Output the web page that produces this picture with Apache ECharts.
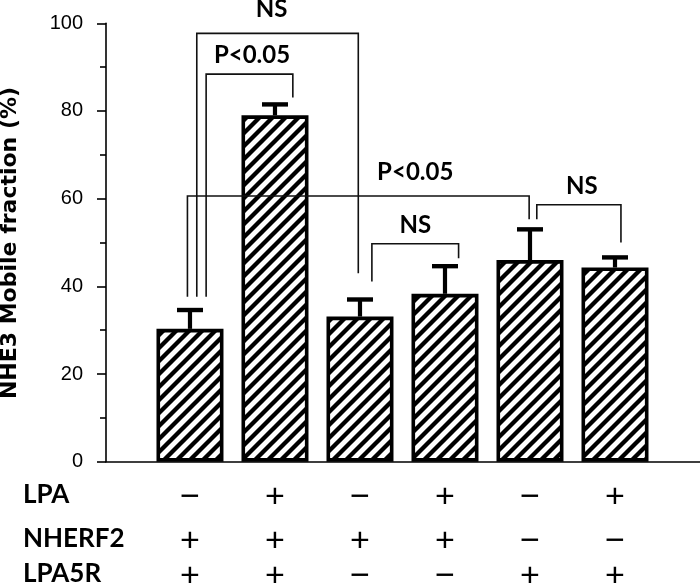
<!DOCTYPE html>
<html><head><meta charset="utf-8">
<script src="https://cdn.jsdelivr.net/npm/echarts@6/dist/echarts.min.js"></script>
<style>html,body{margin:0;padding:0;background:#fff}#c{width:700px;height:587px}</style>
</head><body><div id="c"></div><script>
// ---- data ----
const categories = [0, 1, 2, 3, 4, 5];
const means  = [30.3, 79.0, 33.1, 38.3, 46.0, 44.3];
const errors = [4.3, 2.5, 3.9, 6.3, 7.0, 2.3];
const yTitle = 'NHE3 Mobile fraction (%)';
const rowNames = ['LPA', 'NHERF2', 'LPA5R'];
const lpaRow    = ['−', '+', '−', '+', '−', '+'];
const nherf2Row = ['+', '+', '+', '+', '−', '−'];
const lpa5rRow  = ['+', '+', '−', '−', '+', '+'];
const yTicks = [0, 20, 40, 60, 80, 100];
// brackets: [xLeft, xRight, yTop, yLeftEnd, yRightEnd, label, labelX, labelY]
const brackets = [
  [0.19, 1.21, 88.4, 37.6, 83.1, 'P<0.05', 0.73, 92.6],
  [0.08, 1.98, 97.7, 37.6, 43.0, 'NS', 0.96, 103.2],
  [-0.03, 3.99, 60.6, 37.6, 55.3, 'P<0.05', 2.65, 66.1],
  [2.14, 3.16, 49.7, 41.1, 46.4, 'NS', 2.65, 54.0],
  [4.08, 5.07, 58.6, 55.3, 50.0, 'NS', 4.61, 62.8]
];

// ---- hatch pattern ----
function hatch() {
  const s = 13, c = document.createElement('canvas');
  c.width = s; c.height = s;
  const g = c.getContext('2d');
  g.fillStyle = '#fff'; g.fillRect(0, 0, s, s);
  g.strokeStyle = '#000'; g.lineWidth = 4.3; g.lineCap = 'square';
  g.beginPath();
  g.moveTo(0, s); g.lineTo(s, 0);
  g.moveTo(-s / 2, s / 2); g.lineTo(s / 2, -s / 2);
  g.moveTo(s / 2, s + s / 2); g.lineTo(s + s / 2, s / 2);
  g.stroke();
  return c;
}

const chart = echarts.init(document.getElementById('c'), null, { renderer: 'canvas' });
const tableRows = [lpaRow, nherf2Row, lpa5rRow];
const rowY = [498, 542, 577];

chart.setOption({
  animation: false,
  backgroundColor: '#fff',
  grid: { left: 106, right: 0, top: 23.3, bottom: 125.3, containLabel: false, outerBoundsMode: 'none' },
  xAxis: {
    type: 'value', min: -0.988, max: 6.0,
    axisLine: { show: true, onZero: false, lineStyle: { color: '#000', width: 1.6 } },
    axisTick: { show: false }, axisLabel: { show: false }, splitLine: { show: false }
  },
  yAxis: {
    type: 'value', min: yTicks[0], max: yTicks[yTicks.length - 1], interval: 20,
    axisLine: { show: true, onZero: false, lineStyle: { color: '#000', width: 1.6 } },
    axisTick: { show: true, length: 9, lineStyle: { color: '#000', width: 1.6 } },
    minorTick: { show: true, splitNumber: 2, length: 6, lineStyle: { color: '#000', width: 1.6 } },
    axisLabel: { fontFamily: 'Liberation Sans', fontSize: 20, color: '#000', margin: 23 },
    splitLine: { show: false }
  },
  series: [
    {
      type: 'bar',
      data: means.map((m, i) => [categories[i], m]),
      barWidth: 67,
      itemStyle: { color: { image: hatch(), repeat: 'repeat' }, borderColor: '#000', borderWidth: 3.6 },
      z: 2
    },
    {
      type: 'custom', z: 3, clip: false,
      data: means.map((m, i) => [categories[i], m, m + errors[i]]),
      encode: { x: 0, y: [1, 2] },
      renderItem: (params, api) => {
        const x = api.value(0);
        const p0 = api.coord([x, api.value(1)]);
        const p1 = api.coord([x, api.value(2)]);
        return {
          type: 'group', children: [
            { type: 'line', shape: { x1: p0[0], y1: p0[1], x2: p1[0], y2: p1[1] }, style: { stroke: '#000', lineWidth: 4.2 } },
            { type: 'line', shape: { x1: p1[0] - 13, y1: p1[1], x2: p1[0] + 13, y2: p1[1] }, style: { stroke: '#000', lineWidth: 4.4 } }
          ]
        };
      }
    },
    {
      type: 'custom', z: 4, clip: false,
      data: brackets.map(b => [b[0], b[2]]),
      renderItem: (params, api) => {
        const b = brackets[params.dataIndex];
        const pts = [api.coord([b[0], b[3]]), api.coord([b[0], b[2]]), api.coord([b[1], b[2]]), api.coord([b[1], b[4]])];
        const t = api.coord([b[6], b[7]]);
        return {
          type: 'group', children: [
            { type: 'polyline', shape: { points: pts }, style: { stroke: '#111', lineWidth: 1.6, fill: null } },
            { type: 'text', x: t[0], y: t[1], style: { text: b[5], font: 'bold 24px Lato', fill: '#000', align: 'center', verticalAlign: 'middle' } }
          ]
        };
      }
    },
    {
      type: 'custom', z: 4, clip: false,
      data: categories.map(c => [c, 0]),
      renderItem: (params, api) => {
        const i = params.dataIndex;
        const x = api.coord([api.value(0), 0])[0];
        return {
          type: 'group', children: tableRows.map((row, r) => ({
            type: 'text', x: x, y: rowY[r],
            style: { text: row[i], font: '34px "Liberation Sans"', fill: '#000', align: 'center', verticalAlign: 'middle' }
          }))
        };
      }
    }
  ],
  graphic: rowNames.map((n, r) => ({
    type: 'text', left: 23, top: rowY[r] - 16,
    style: { text: n, font: 'bold 26px Lato', fill: '#000' }
  })).concat([{
    type: 'text', x: 10, y: 243, rotation: Math.PI / 2,
    style: { text: yTitle, font: 'bold 22px "DejaVu Sans"', fill: '#000', align: 'center', verticalAlign: 'middle' }
  }])
});
</script></body></html>
